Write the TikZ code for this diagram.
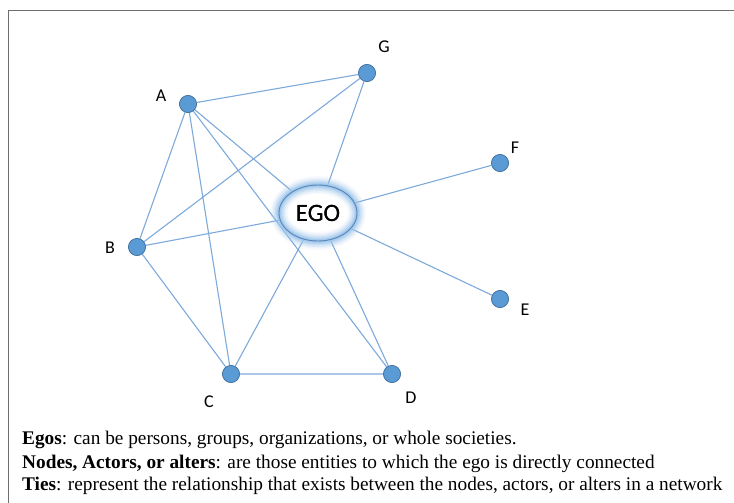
\documentclass[tikz,border=0pt]{standalone}
\usepackage{fontspec}
\setmainfont{Liberation Serif}
\newfontfamily\labelfont{Carlito}
\usetikzlibrary{shapes.geometric}
\definecolor{dotfill}{HTML}{5B9BD5}
\definecolor{dotline}{HTML}{41719C}
\definecolor{tie}{HTML}{7EAADB}
\definecolor{glow}{HTML}{9CC6EC}
\definecolor{egoline}{HTML}{5A86B8}
\definecolor{frame}{HTML}{6E6E6E}
\tikzset{
  alter/.style={circle, fill=dotfill, draw=dotline, line width=0.6pt, minimum size=17pt, inner sep=0pt},
  tieline/.style={draw=tie, line width=1.1pt},
  lbl/.style={font=\labelfont\fontsize{18}{20}\selectfont, text=black},
  egonode/.style={ellipse, draw=egoline, line width=0.9pt, fill=white, minimum width=78pt, minimum height=56pt, inner sep=0pt, font=\labelfont\fontsize{25}{28}\selectfont},
  legend/.style={anchor=west, font=\fontsize{19.3}{22}\selectfont, inner sep=0pt}
}
\begin{document}
\begin{tikzpicture}[x=1pt, y=-1pt]
\useasboundingbox (0,0) rectangle (734,503);
\fill[white] (0,0) rectangle (734,503);
% outer frame, open to the right and bottom
\draw[frame, line width=1.5pt] (8.5,503) -- (8.5,10.5) -- (734,10.5);

\node[alter] (A) at (188,104) {};
\node[alter] (G) at (367,73) {};
\node[alter] (F) at (500,163) {};
\node[alter] (E) at (500,299) {};
\node[alter] (D) at (392,374) {};
\node[alter] (C) at (231,374) {};
\node[alter] (B) at (137,247) {};
\node[egonode] (ego) at (318,213) {EGO};

% ties
\path[tieline]
  (A) -- (G)
  (A) -- (B)
  (A) -- (C)
  (A) -- (D)
  (A) -- (ego)
  (G) -- (B)
  (G) -- (ego)
  (B) -- (ego)
  (B) -- (C)
  (C) -- (D)
  (C) -- (ego)
  (D) -- (ego)
  (ego) -- (F)
  (ego) -- (E);

% soft halo round the ego
\foreach \w/\o in {18/0.07, 15/0.12, 12/0.18, 9/0.28, 6/0.42, 3.5/0.65}
  \draw[glow, line width=\w pt, opacity=\o] (318,213) ellipse [x radius=39, y radius=28];

% redraw nodes over the ties
\node[egonode, fill=none] at (318,213) {EGO};
\foreach \p in {(188,104),(367,73),(500,163),(500,299),(392,374),(231,374),(137,247)}
  \node[alter] at \p {};

\node[lbl] (lA) at (161,96) {A};
\node[lbl] (lG) at (384,47) {G};
\node[lbl] (lF) at (515,148) {F};
\node[lbl] (lE) at (525,310) {E};
\node[lbl] (lD) at (411,398) {D};
\node[lbl] (lC) at (209,402) {C};
\node[lbl] (lB) at (110,248) {B};

\node[legend] (t1) at (22,440) {\textbf{Egos}: can be persons, groups, organizations, or whole societies.};
\node[legend] (t2) at (22,464) {\textbf{Nodes, Actors, or alters}: are those entities to which the ego is directly connected};
\node[legend] (t3) at (22,486) {\textbf{Ties}: represent the relationship that exists between the nodes, actors, or alters in a network};
\end{tikzpicture}
\end{document}
